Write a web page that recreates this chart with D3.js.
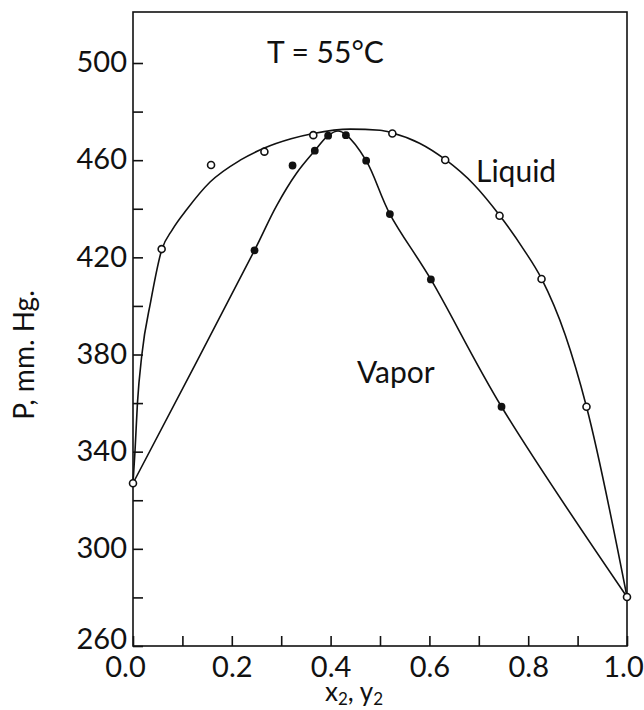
<!DOCTYPE html>
<html>
<head>
    <meta charset="UTF-8">
    <title>P-x-y diagram, T = 55°C</title>
    <script type="text/javascript" src="https://d3js.org/d3.v7.min.js"></script>
    <style>
        body { margin: 0; background: #fff; }
        svg { display: block; font-family: Lato, "Open Sans", sans-serif; }
        .axis path, .axis line { stroke: #111; stroke-width: 1.6; }
        .axis text { font-size: 29px; fill: #111; font-family: Lato, sans-serif; }
    </style>
</head>
<body>
    <div id="chart"></div>
    <script>
        // measured points, open circles = liquid, filled = vapor
        var liquidX = [0, 0.058, 0.158, 0.266, 0.365, 0.525, 0.632, 0.742, 0.827, 0.918, 1.0];
        var liquidP = [327, 423.4, 458, 463.5, 470.3, 471, 460.1, 437.1, 411.1, 358.5, 280.2];
        var vaporX = [0.246, 0.323, 0.368, 0.395, 0.431, 0.472, 0.520, 0.603, 0.746];
        var vaporP = [422.9, 457.8, 463.9, 470.1, 470.3, 459.8, 437.8, 410.9, 358.5];

        // drawn curves
        var liquidCurveX = [0, 0.004, 0.009, 0.018, 0.036, 0.058, 0.08, 0.11, 0.156, 0.217, 0.266, 0.32, 0.365, 0.44, 0.5, 0.525, 0.58, 0.632, 0.69, 0.742, 0.79, 0.827, 0.875, 0.918, 1.0];
        var liquidCurveP = [327, 340, 360, 380, 402, 423, 431.5, 440, 451, 460, 465, 468.8, 471, 472.8, 472.3, 471.2, 467, 460.3, 450, 437.3, 423.5, 411.2, 388, 358.5, 280.2];
        var vaporCurveX = [0, 0.246, 0.29, 0.331, 0.368, 0.395, 0.415, 0.431, 0.472, 0.520, 0.603, 0.746, 1.0];
        var vaporCurveP = [327, 422.9, 441, 454.6, 463.9, 470.1, 472, 470.5, 459.8, 437.8, 410.9, 358.5, 280.2];

        var xTicks = [0, 0.1, 0.2, 0.3, 0.4, 0.5, 0.6, 0.7, 0.8, 0.9, 1.0];
        var yTicks = [260, 280, 300, 320, 340, 360, 380, 400, 420, 440, 460, 480, 500];

        var width = 644, height = 710;
        var plotL = 133, plotR = 627, plotT = 12, plotB = 646;

        var svg = d3.select("#chart").append("svg")
            .attr("width", width).attr("height", height);

        var x = d3.scaleLinear().domain([0, 1]).range([plotL, plotR]);
        var y = d3.scaleLinear().domain([260, 521]).range([plotB, plotT]);

        // frame
        svg.append("rect")
            .attr("x", plotL).attr("y", plotT)
            .attr("width", plotR - plotL).attr("height", plotB - plotT)
            .attr("fill", "none").attr("stroke", "#111").attr("stroke-width", 1.6);

        var yAxis = d3.axisLeft(y)
            .tickValues(yTicks)
            .tickSize(-10).tickPadding(6)
            .tickFormat(function (d) { return (d - 260) % 40 === 0 ? d : ""; });
        var gy = svg.append("g").attr("class", "axis")
            .attr("transform", "translate(" + plotL + ",0)")
            .call(yAxis)
            .call(function (g) { g.select(".domain").remove(); })
            .call(function (g) { g.selectAll("text").attr("dy", "0.3em"); });
        gy.selectAll("text").filter(function (d) { return d === 260; }).attr("dy", "0.1em");

        var xAxis = d3.axisBottom(x)
            .tickValues(xTicks)
            .tickSize(-10).tickPadding(10)
            .tickFormat(function (d, i) { return i % 2 === 0 ? d3.format(".1f")(d) : ""; });
        var gx = svg.append("g").attr("class", "axis")
            .attr("transform", "translate(0," + plotB + ")")
            .call(xAxis)
            .call(function (g) { g.select(".domain").remove(); });
        gx.selectAll("text").filter(function (d) { return d === 1; }).attr("dx", -4);
        gx.selectAll("text").filter(function (d) { return d === 0; }).attr("dx", -8);

        var line = d3.line()
            .x(function (d) { return x(d[0]); })
            .y(function (d) { return y(d[1]); });

        svg.append("path")
            .datum(d3.zip(liquidCurveX, liquidCurveP))
            .attr("d", line.curve(d3.curveMonotoneX))
            .attr("fill", "none").attr("stroke", "#111").attr("stroke-width", 1.6);

        svg.append("path")
            .datum(d3.zip(vaporCurveX, vaporCurveP))
            .attr("d", line.curve(d3.curveCatmullRom.alpha(0.5)))
            .attr("fill", "none").attr("stroke", "#111").attr("stroke-width", 1.6);

        svg.selectAll(".liq")
            .data(d3.zip(liquidX, liquidP))
            .enter().append("circle")
            .attr("class", "liq")
            .attr("cx", function (d) { return x(d[0]); })
            .attr("cy", function (d) { return y(d[1]); })
            .attr("r", 3.5)
            .attr("fill", "#fff").attr("stroke", "#111").attr("stroke-width", 1.6);

        svg.selectAll(".vap")
            .data(d3.zip(vaporX, vaporP))
            .enter().append("circle")
            .attr("class", "vap")
            .attr("cx", function (d) { return x(d[0]); })
            .attr("cy", function (d) { return y(d[1]); })
            .attr("r", 3.9)
            .attr("fill", "#111");

        // labels
        svg.append("text")
            .attr("x", 267).attr("y", 63)
            .attr("font-size", 30).attr("fill", "#111")
            .text("T = 55°C");

        svg.append("text")
            .attr("x", 476).attr("y", 182)
            .attr("font-size", 30).attr("fill", "#111")
            .text("Liquid");

        svg.append("text")
            .attr("x", 357).attr("y", 383)
            .attr("font-size", 30).attr("fill", "#111")
            .text("Vapor");

        svg.append("text")
            .attr("transform", "translate(34,355) rotate(-90)")
            .attr("text-anchor", "middle")
            .attr("font-size", 28).attr("fill", "#111")
            .text("P, mm. Hg.");

        var xl = svg.append("text")
            .attr("x", 354).attr("y", 701)
            .attr("text-anchor", "middle")
            .attr("font-size", 26).attr("fill", "#111");
        xl.append("tspan").text("x");
        xl.append("tspan").attr("font-size", 17).attr("dy", 4).text("2");
        xl.append("tspan").attr("dy", -4).text(", y");
        xl.append("tspan").attr("font-size", 17).attr("dy", 4).text("2");
    </script>
</body>
</html>
